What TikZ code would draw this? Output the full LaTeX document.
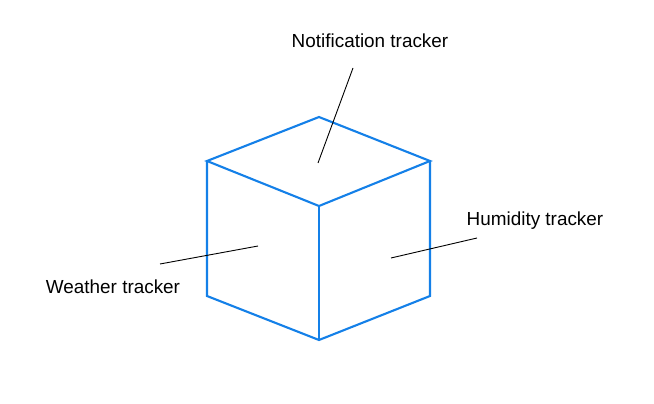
\documentclass[tikz,border=0pt]{standalone}
\usepackage{fontspec}
\setmainfont{Liberation Sans}
\definecolor{cubeblue}{RGB}{20,128,232}
\begin{document}
\begin{tikzpicture}[x=1pt,y=-1pt,
  edge/.style={draw=cubeblue,line width=2.1pt,line join=miter},
  leader/.style={draw=black,line width=0.9pt},
  lbl/.style={anchor=base,inner sep=0pt,font=\fontsize{18.9}{22}\selectfont}]
\useasboundingbox[fill=white] (0,0) rectangle (654,404);
% cube vertices
\coordinate (T) at (319,117);
\coordinate (TL) at (207,161);
\coordinate (TR) at (430,161);
\coordinate (C) at (319,206);
\coordinate (BL) at (207,296);
\coordinate (BR) at (430,296);
\coordinate (B) at (319,340);
\draw[edge] (T) -- (TR) -- (C) -- (TL) -- cycle;
\draw[edge] (TL) -- (BL) -- (B) -- (BR) -- (TR);
\draw[edge] (C) -- (B);
% labels
\node[lbl] (notif) at (370,48) {Notification tracker};
\node[lbl] (humid) at (535,225) {Humidity tracker};
\node[lbl] (weath) at (113,293) {Weather tracker};
% leader ends
\coordinate (n1) at (353,68);
\coordinate (n2) at (318,163);
\coordinate (h1) at (477,238);
\coordinate (h2) at (391,258);
\coordinate (w1) at (160,264);
\coordinate (w2) at (258,246);
\draw[leader] (n1) -- (n2);
\draw[leader] (h1) -- (h2);
\draw[leader] (w1) -- (w2);
\end{tikzpicture}
\end{document}
